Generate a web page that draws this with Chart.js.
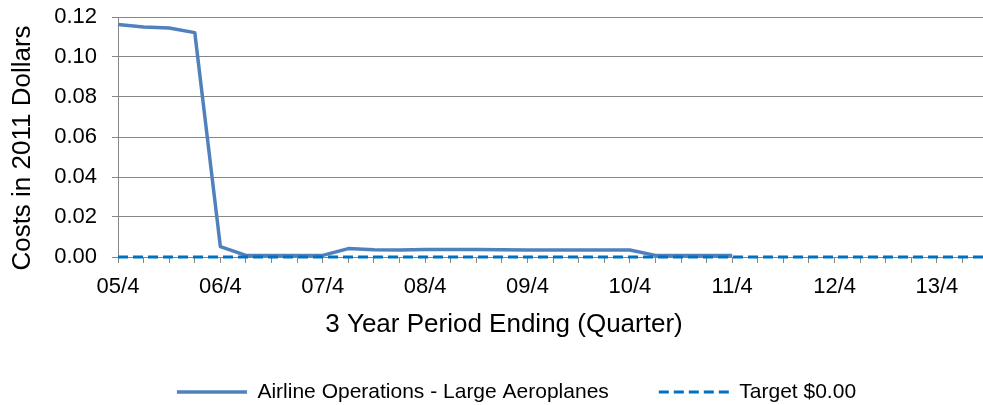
<!DOCTYPE html>
<html>
<head>
<meta charset="utf-8">
<title>Airline Operations - Large Aeroplanes</title>
<script src="https://cdn.jsdelivr.net/npm/chart.js@4.4.1/dist/chart.umd.min.js"></script>
<style>
  html, body { margin: 0; padding: 0; background: #fff; }
  #wrap { width: 983px; height: 405px; position: relative; }
</style>
</head>
<body>
<div id="wrap"><canvas id="costChart"></canvas></div>
<script>
// 3 year periods, by ending quarter (05/4 .. 14/2)
const quarters = [
  "05/4",
  "06/1", "06/2", "06/3", "06/4",
  "07/1", "07/2", "07/3", "07/4",
  "08/1", "08/2", "08/3", "08/4",
  "09/1", "09/2", "09/3", "09/4",
  "10/1", "10/2", "10/3", "10/4",
  "11/1", "11/2", "11/3", "11/4",
  "12/1", "12/2", "12/3", "12/4",
  "13/1", "13/2", "13/3", "13/4",
  "14/1", "14/2"
];

// quarters that get a label under the axis
const labelledQuarters = ["05/4", "06/4", "07/4", "08/4", "09/4", "10/4", "11/4", "12/4", "13/4"];

// costs in 2011 dollars, no data after 11/4
const largeAeroplanes = [
  0.1162,
  0.1150, 0.1145, 0.1122, 0.0052,
  0.0008, 0.0008, 0.0008, 0.0008,
  0.0042, 0.0036, 0.0035, 0.0037,
  0.0038, 0.0037, 0.0036, 0.0035,
  0.0035, 0.0035, 0.0035, 0.0035,
  0.0008, 0.0008, 0.0008, 0.0008,
  null, null, null, null,
  null, null, null, null,
  null, null
];

// target is $0.00 for every period
const targetCost = [
  0,
  0, 0, 0, 0,
  0, 0, 0, 0,
  0, 0, 0, 0,
  0, 0, 0, 0,
  0, 0, 0, 0,
  0, 0, 0, 0,
  0, 0, 0, 0,
  0, 0, 0, 0,
  0, 0
];

const costTicks = [0, 0.02, 0.04, 0.06, 0.08, 0.10, 0.12];

const seriesNames = ["Airline Operations - Large Aeroplanes", "Target $0.00"];
const xTitle = "3 Year Period Ending (Quarter)";
const yTitle = "Costs in 2011 Dollars";

const FONT = '"Liberation Sans", Arial, sans-serif';
const GREY = "#868686";

// x values are the quarter index, so the axis can stop part way into 14/1
function toPoints(values) {
  return values.map((v, i) => ({ x: i, y: v }));
}

// axis titles sit where Excel put them, legend nudged to the right like the original
const titlesAndLegend = {
  id: "titlesAndLegend",
  afterLayout(chart) {
    chart.legend.left += 25;
    chart.legend.right += 25;
  },
  afterDraw(chart) {
    const ctx = chart.ctx;
    ctx.save();
    ctx.fillStyle = "#000";
    ctx.font = "26px " + FONT;
    ctx.textAlign = "center";
    ctx.textBaseline = "middle";
    ctx.fillText(xTitle, 504, 325);
    ctx.translate(23, 148);
    ctx.rotate(-Math.PI / 2);
    ctx.fillText(yTitle, 0, 0);
    ctx.restore();
  }
};

Chart.defaults.font.family = FONT;
Chart.defaults.color = "#000";

new Chart(document.getElementById("costChart"), {
  type: "line",
  data: {
    datasets: [
      {
        label: seriesNames[0],
        data: toPoints(largeAeroplanes),
        borderColor: "#4F81BD",
        backgroundColor: "#4F81BD",
        borderWidth: 3.5,
        borderJoinStyle: "round",
        pointRadius: 0,
        tension: 0,
        spanGaps: false,
        clip: { left: 2, top: 5, right: 0, bottom: 5 },
        order: 1
      },
      {
        label: seriesNames[1],
        data: toPoints(targetCost),
        borderColor: "#0070C0",
        backgroundColor: "#0070C0",
        borderWidth: 3,
        borderDash: [10, 5],
        pointRadius: 0,
        tension: 0,
        clip: { left: 2, top: 5, right: 0, bottom: 5 },
        order: 0
      }
    ]
  },
  options: {
    responsive: true,
    maintainAspectRatio: false,
    animation: false,
    layout: { padding: { top: 17, left: 0, right: 0, bottom: 0 } },
    plugins: {
      tooltip: { enabled: false },
      legend: {
        position: "bottom",
        maxHeight: 73.5,
        labels: {
          font: { size: 21 },
          usePointStyle: true,
          pointStyle: "line",
          pointStyleWidth: 70,
          padding: 50,
          sort: (a, b) => a.datasetIndex - b.datasetIndex,
          // take width and dash from the line, not from the (hidden) points
          generateLabels: chart => Chart.defaults.plugins.legend.labels.generateLabels(chart).map(item => {
            const ds = chart.data.datasets[item.datasetIndex];
            item.lineWidth = ds.borderWidth;
            item.lineDash = ds.borderDash || [];
            item.strokeStyle = ds.borderColor;
            return item;
          })
        }
      }
    },
    scales: {
      x: {
        type: "linear",
        min: 0,
        max: 33.8,
        afterFit: scale => { scale.height = 74.5; },
        afterBuildTicks: scale => {
          scale.ticks = quarters.map((q, i) => ({ value: i })).filter(t => t.value <= scale.max);
        },
        ticks: {
          autoSkip: false,
          maxRotation: 0,
          padding: 11,
          font: { size: 22 },
          callback: value => labelledQuarters.includes(quarters[value]) ? quarters[value] : ""
        },
        grid: {
          drawOnChartArea: false,
          drawTicks: true,
          tickLength: 6,
          color: GREY
        },
        border: { color: GREY, width: 1 }
      },
      y: {
        min: 0,
        max: 0.12,
        afterFit: scale => {
          scale.width = 118;
          scale.paddingTop = 0;
          scale.paddingBottom = 0;
        },
        afterBuildTicks: scale => {
          scale.ticks = costTicks.map(v => ({ value: v }));
        },
        ticks: {
          padding: 15,
          font: { size: 22 },
          callback: value => value.toFixed(2)
        },
        grid: {
          color: GREY,
          lineWidth: 1,
          tickLength: 6
        },
        border: { color: GREY, width: 1 }
      }
    }
  },
  plugins: [titlesAndLegend]
});
</script>
</body>
</html>
